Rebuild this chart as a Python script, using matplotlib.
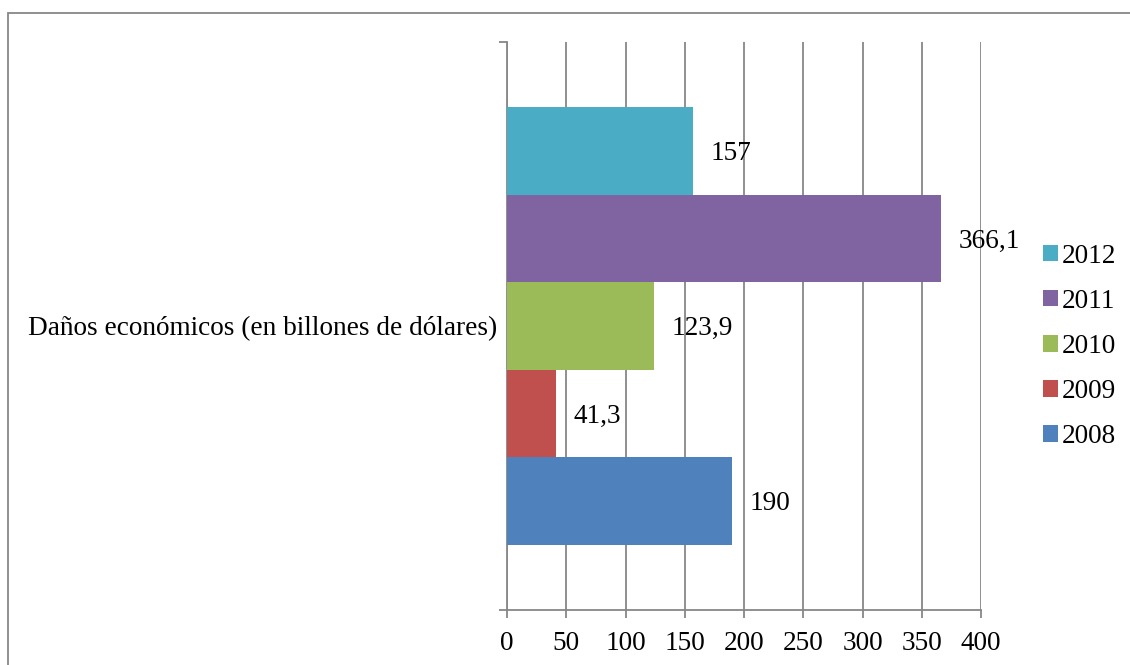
import matplotlib.pyplot as plt
from matplotlib.patches import Rectangle

plt.rcParams['font.family'] = ['Liberation Serif', 'DejaVu Serif']

#data
category = 'Daños económicos (en billones de dólares)'
years = ['2008', '2009', '2010', '2011', '2012']
values = [190, 41.3, 123.9, 366.1, 157]
colors = ['#4F81BD', '#C0504D', '#9BBB59', '#8064A2', '#4BACC6']
xticks = [0, 50, 100, 150, 200, 250, 300, 350, 400]

grey = '#878787'
fs = 19.6

fig = plt.figure(figsize=(11.3, 6.65), dpi=100)
#outer chart border (runs off right/bottom edge like the original crop)
fig.patches.append(Rectangle((7.5/1130, -0.1), 1.2, 1 - 12.5/665 + 0.1,
                             transform=fig.transFigure, fill=False,
                             edgecolor=grey, linewidth=1.3))

ax = fig.add_axes([507/1130, 1 - 610/665, 474/1130, 568/665])

bh = 0.1542
handles = []
for i, (yr, v, c) in enumerate(zip(years, values, colors)):
    yc = 0.5 + (i - 2) * bh
    b = ax.barh(yc, v, height=bh, color=c, label=yr, zorder=3)
    handles.append(b)
    ax.annotate(f'{v:g}'.replace('.', ','), (v, yc), xytext=(12.5, -2),
                textcoords='offset points', va='center', ha='left', fontsize=fs)

ax.set_xlim(0, 400)
ax.set_ylim(0, 1)
ax.set_xticks(xticks)
ax.set_xticklabels([str(t) for t in xticks], fontsize=fs)
ax.set_yticks([0, 1])
ax.set_yticklabels(['', ''])
ax.set_yticks([0.5], labels=[category], minor=True)
ax.tick_params(axis='y', which='minor', length=0, pad=7, labelsize=fs)
ax.tick_params(axis='both', which='major', direction='out', length=6,
               width=1.3, color=grey)
ax.tick_params(axis='x', pad=9)

ax.grid(True, axis='x', color=grey, linewidth=1.3, zorder=0)
for s in ['top', 'right']:
    ax.spines[s].set_visible(False)
for s in ['left', 'bottom']:
    ax.spines[s].set_color(grey)
    ax.spines[s].set_linewidth(1.3)

fig.legend(handles[::-1], years[::-1], loc='center left',
           bbox_to_anchor=(1043/1130, 1 - 346.5/665), frameon=False,
           fontsize=fs, handlelength=0.55, handleheight=0.55,
           handletextpad=0.15, labelspacing=0.74, borderpad=0,
           borderaxespad=0)

fig.savefig('out.png', dpi=100)
